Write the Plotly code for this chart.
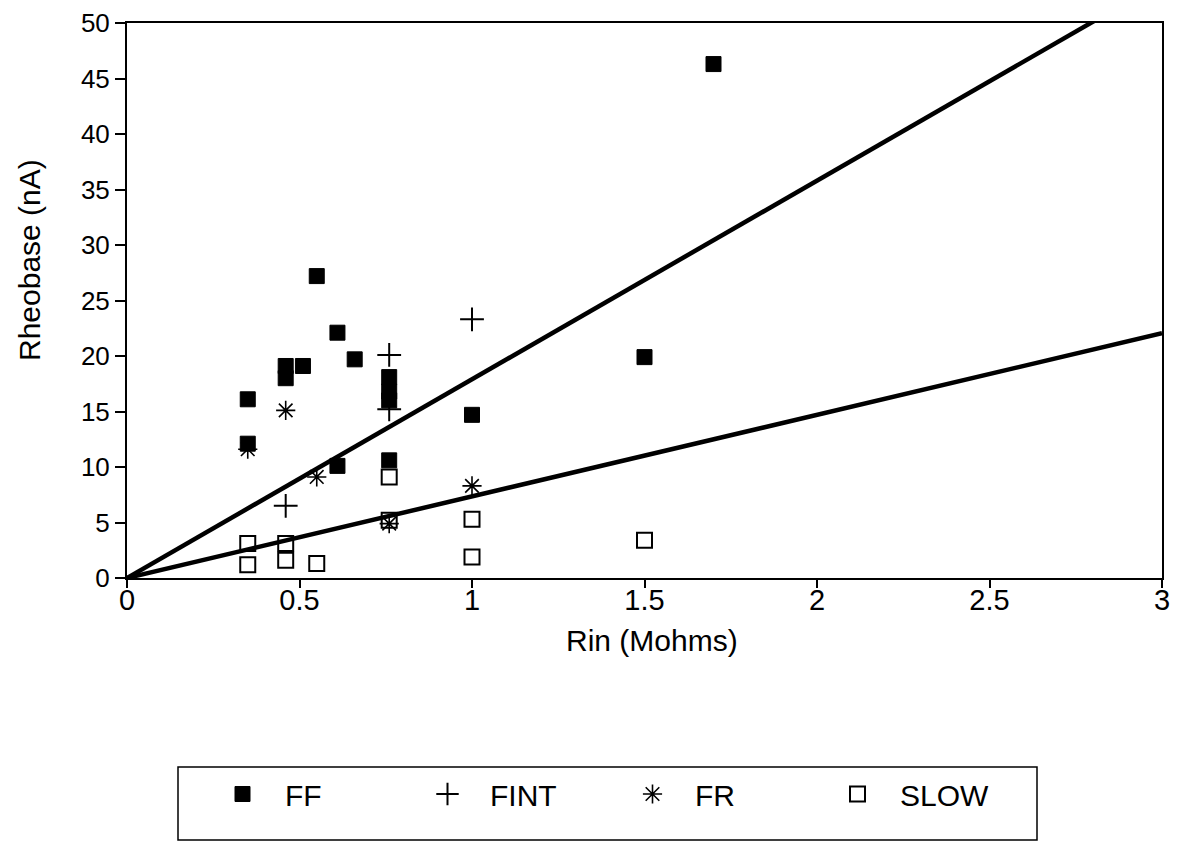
import plotly.graph_objects as go

# ---- data ----
ff_x = [1.70, 0.55, 0.61, 0.66, 0.46, 0.51, 0.46, 0.35, 0.35, 0.61, 0.76, 0.76, 0.76, 0.76, 1.00, 1.50]
ff_y = [46.3, 27.2, 22.1, 19.7, 19.1, 19.1, 18.0, 16.1, 12.1, 10.1, 18.1, 16.8, 16.0, 10.6, 14.7, 19.9]

fint_x = [1.00, 0.76, 0.76, 0.46]
fint_y = [23.3, 20.1, 15.2, 6.5]

fr_x = [0.46, 0.35, 0.55, 0.76, 1.00]
fr_y = [15.1, 11.6, 9.1, 4.9, 8.3]

slow_x = [0.35, 0.35, 0.46, 0.46, 0.55, 0.76, 0.76, 1.00, 1.00, 1.50]
slow_y = [3.1, 1.2, 3.1, 1.6, 1.3, 9.1, 5.2, 5.3, 1.9, 3.4]

# regression lines through origin (slopes)
line_x = [0, 3]
upper_slope = 17.9
lower_slope = 7.35

xticks = [0, 0.5, 1, 1.5, 2, 2.5, 3]
xticklabels = ["0", "0.5", "1", "1.5", "2", "2.5", "3"]
yticks = list(range(0, 51, 5))

FONT = "Liberation Sans, Arial, sans-serif"

fig = go.Figure()

fig.add_trace(go.Scatter(x=line_x, y=[upper_slope * v for v in line_x], mode="lines",
                         line=dict(color="black", width=4.5), showlegend=False, hoverinfo="skip"))
fig.add_trace(go.Scatter(x=line_x, y=[lower_slope * v for v in line_x], mode="lines",
                         line=dict(color="black", width=4.5), showlegend=False, hoverinfo="skip"))

fig.add_trace(go.Scatter(x=ff_x, y=ff_y, mode="markers", name="FF",
                         marker=dict(symbol="square", size=15, color="black",
                                     line=dict(color="black", width=1))))
fig.add_trace(go.Scatter(x=fint_x, y=fint_y, mode="markers", name="FINT",
                         marker=dict(symbol="cross-thin-open", size=17, color="black",
                                     line=dict(color="black", width=2))))
fig.add_trace(go.Scatter(x=fr_x, y=fr_y, mode="markers", name="FR",
                         marker=dict(symbol="asterisk-open", size=16, color="black",
                                     line=dict(color="black", width=1.6))))
fig.add_trace(go.Scatter(x=slow_x, y=slow_y, mode="markers", name="SLOW",
                         marker=dict(symbol="square-open", size=15, color="black",
                                     line=dict(color="black", width=2))))

# page has an 8px body margin; figure coordinates = page coordinates - 8
OFF = 8
W, H = 1185 - OFF, 843 - OFF
L, R, T, B = 127 - OFF, 1162 - OFF, 23 - OFF, 578 - OFF
pw, ph = R - L, B - T

def px(X):
    return (X - OFF - L) / pw

def py(Y):
    return (B - (Y - OFF)) / ph

# legend frame
fig.add_shape(type="rect", xref="paper", yref="paper",
              x0=px(178), x1=px(1037), y0=py(767), y1=py(840),
              line=dict(color="black", width=1.5))

# axis titles
fig.add_annotation(text="Rin (Mohms)", xref="paper", yref="paper",
                   x=px(652), y=py(640), xanchor="center", yanchor="middle",
                   showarrow=False, font=dict(size=30))
fig.add_annotation(text="Rheobase (nA)", xref="paper", yref="paper",
                   x=px(30), y=py(260), xanchor="center", yanchor="middle",
                   textangle=-90, showarrow=False, font=dict(size=30))

fig.update_layout(
    width=W, height=H,
    margin=dict(l=L, r=W - R, t=T, b=H - B, autoexpand=False),
    paper_bgcolor="white", plot_bgcolor="white",
    font=dict(family=FONT, color="black", size=28),
    showlegend=True,
    legend=dict(orientation="h", x=px(200), xanchor="left", y=py(768), yanchor="top",
                entrywidth=115, entrywidthmode="pixels", itemwidth=75,
                font=dict(size=30, family=FONT), bgcolor="rgba(0,0,0,0)", borderwidth=0,
                itemsizing="trace"),
    xaxis=dict(range=[0, 3], tickvals=xticks, ticktext=xticklabels,
               showline=True, mirror=True, linecolor="black", linewidth=2,
               ticks="outside", ticklen=8, tickwidth=1.5, tickcolor="black",
               showgrid=False, zeroline=False, ticklabelstandoff=-13,
               ticklabeloverflow="allow", tickfont=dict(size=29)),
    yaxis=dict(range=[0, 50], tickvals=yticks,
               showline=True, mirror=True, linecolor="black", linewidth=2,
               ticks="outside", ticklen=10, tickwidth=1.5, tickcolor="black",
               showgrid=False, zeroline=False, ticklabeloverflow="allow",
               tickfont=dict(size=26)),
)

fig.write_html("out.html")
